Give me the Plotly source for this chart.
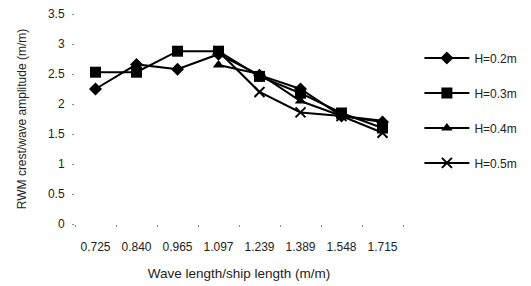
import plotly.graph_objects as go

categories = ["0.725", "0.840", "0.965", "1.097", "1.239", "1.389", "1.548", "1.715"]
h02 = [2.25, 2.66, 2.58, 2.83, 2.48, 2.25, 1.80, 1.70]
h03 = [2.53, 2.53, 2.88, 2.88, 2.46, 2.18, 1.85, 1.60]
h04 = [None, None, None, 2.65, 2.50, 2.05, 1.80, 1.72]
h05 = [None, None, None, 2.88, 2.20, 1.86, 1.80, 1.52]
series_names = ["H=0.2m", "H=0.3m", "H=0.4m", "H=0.5m"]
y_ticks = [0, 0.5, 1, 1.5, 2, 2.5, 3, 3.5]

FONT = "Liberation Sans, Arial, sans-serif"

fig = go.Figure()
styles = [
    dict(symbol="diamond", size=10),
    dict(symbol="square", size=11),
    dict(symbol="triangle-up", size=10),
    dict(symbol="x-thin-open", size=10, line=dict(width=2, color="black")),
]
for i, (name, vals, st) in enumerate(zip(series_names, [h02, h03, h04, h05], styles)):
    fig.add_trace(go.Scatter(
        x=categories, y=vals, name=name, mode="lines+markers",
        line=dict(color="black", width=2),
        marker=dict(color="black", **st),
        legendgroup=f"g{i}",
    ))

# the page body has an 8px default margin, compensated here
fig.update_layout(
    width=531, height=286,
    margin=dict(l=67, r=136, t=6, b=70),
    paper_bgcolor="white", plot_bgcolor="white",
    font=dict(family=FONT, size=12, color="#222"),
    showlegend=True,
    legend=dict(
        x=1.05, y=0.86, xanchor="left", yanchor="top",
        tracegroupgap=16, itemwidth=45,
        font=dict(size=12, family=FONT),
        bgcolor="rgba(0,0,0,0)",
    ),
    xaxis=dict(
        type="category", tickson="boundaries", showgrid=False, showline=False,
        zeroline=False, ticks="outside", ticklen=2, tickcolor="#888",
        range=[-0.5, 7.5], ticklabelstandoff=14, automargin=False,
        title=dict(text="Wave length/ship length (m/m)", font=dict(size=13.5), standoff=15),
        tickfont=dict(size=12),
    ),
    yaxis=dict(
        range=[0, 3.5], tickvals=y_ticks, showgrid=False, showline=False,
        zeroline=False, ticks="outside", ticklen=2, tickcolor="#888",
        ticklabelstandoff=5, automargin=False, ticklabeloverflow="allow",
        title=dict(text="RWM crest/wave amplitude (m/m)", font=dict(size=12), standoff=18),
        tickfont=dict(size=12),
    ),
)

fig.write_html("out.html")
